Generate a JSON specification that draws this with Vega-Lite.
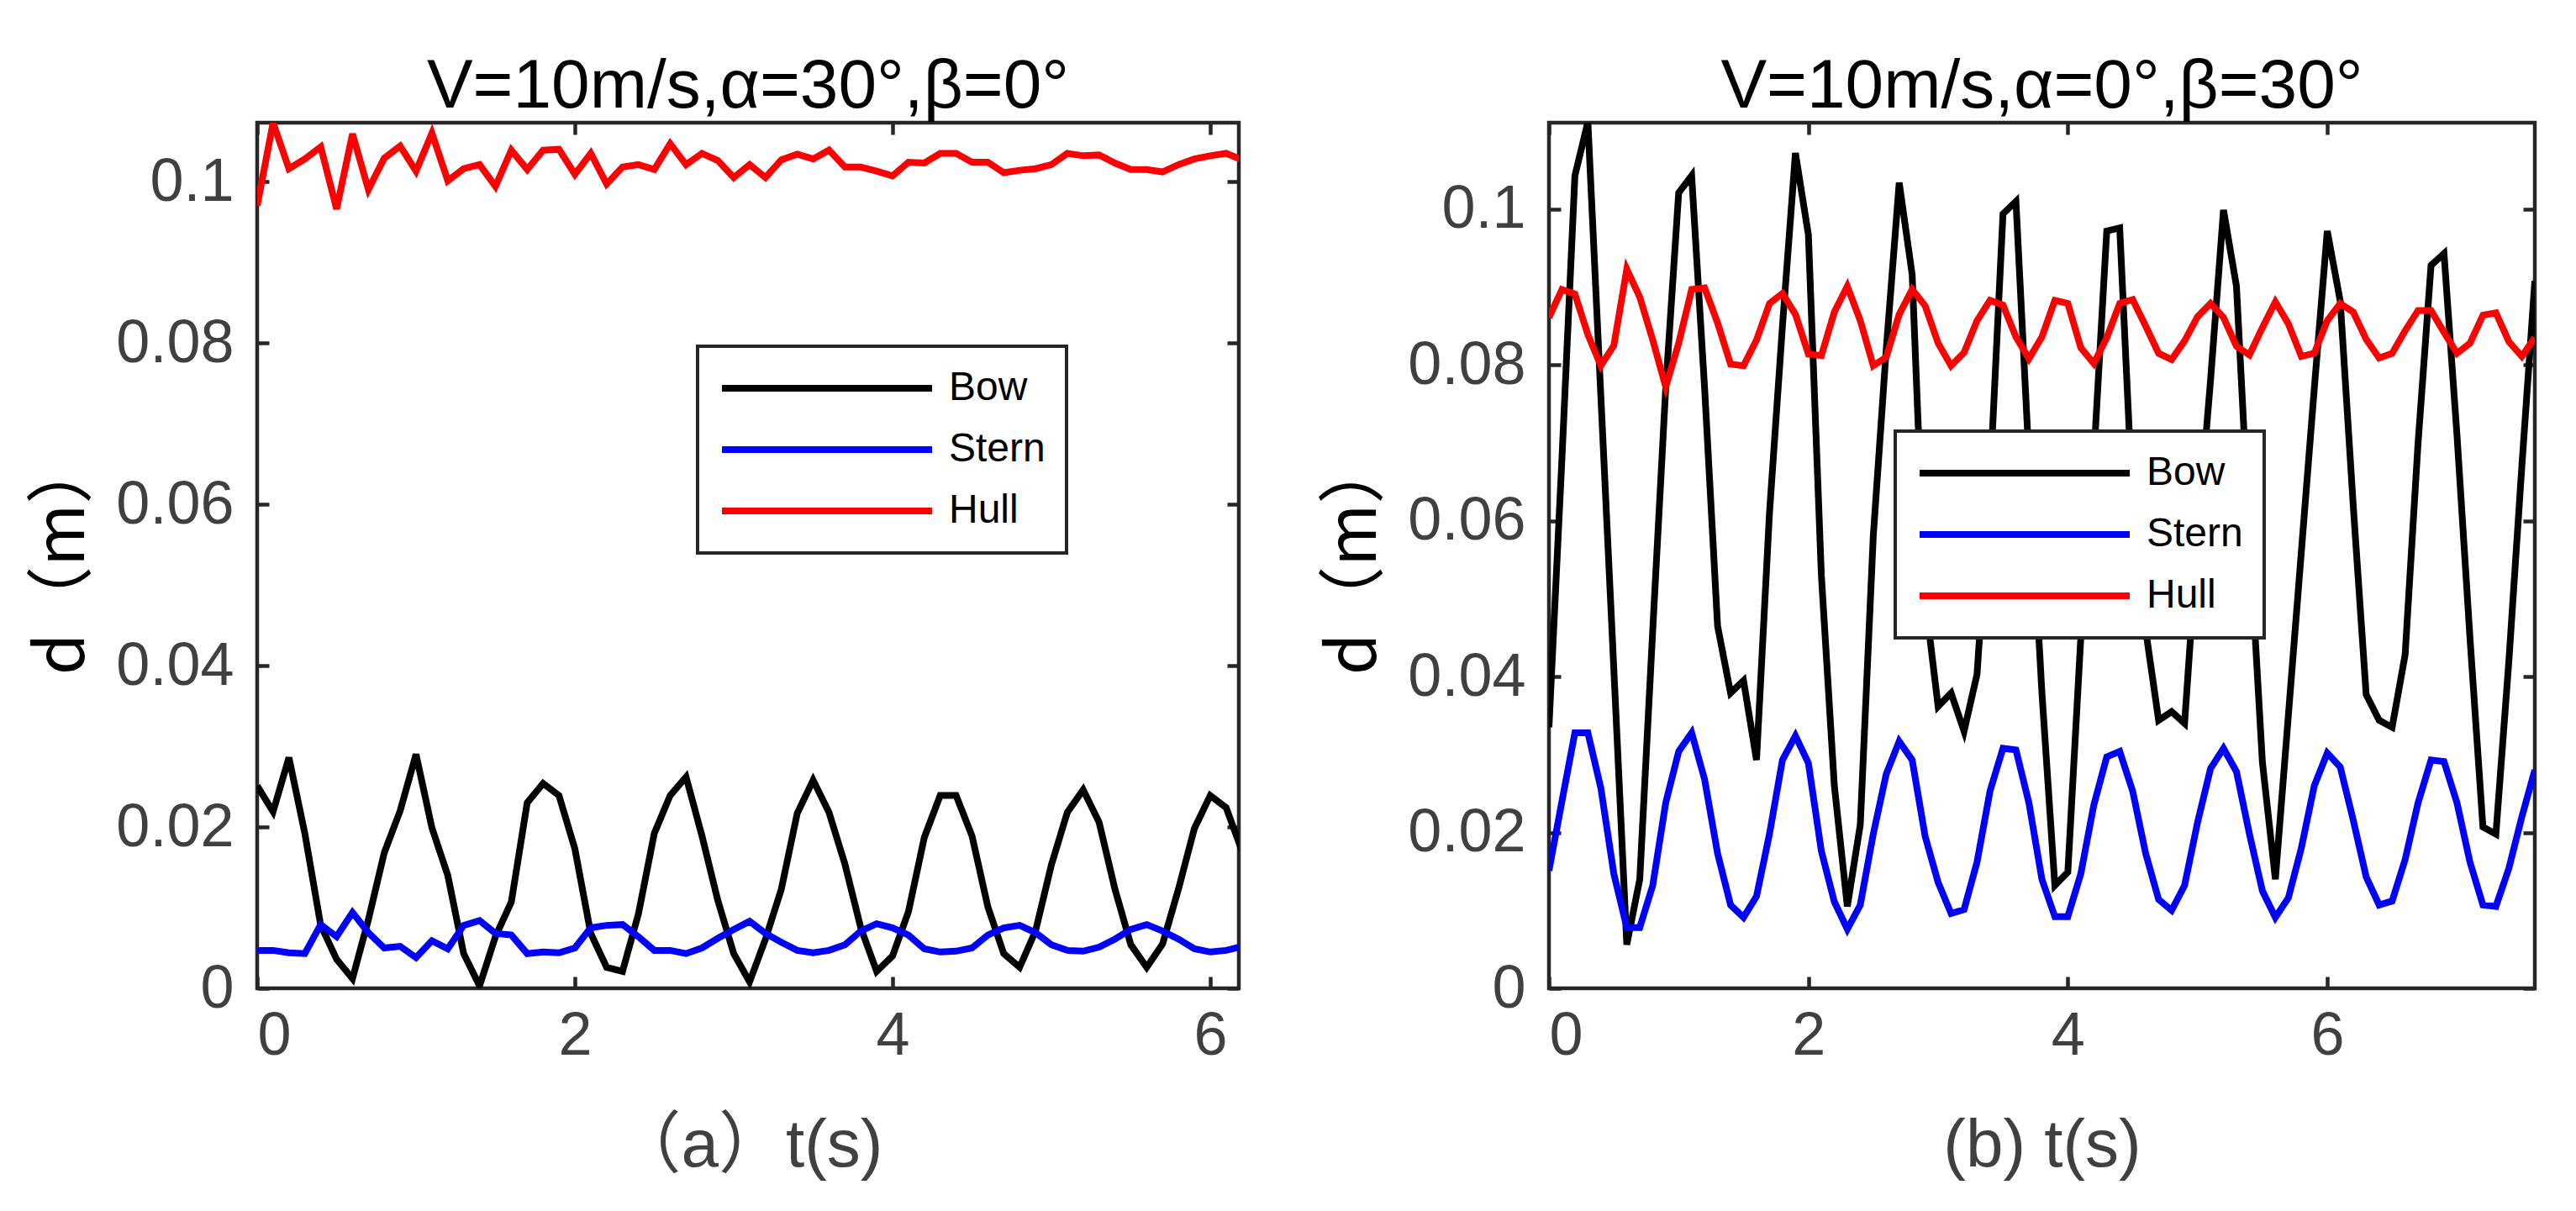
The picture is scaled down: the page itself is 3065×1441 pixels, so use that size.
{
"$schema": "https://vega.github.io/schema/vega-lite/v6.json",
"background": "white",
"padding": {"left": 33, "top": 59, "right": 10, "bottom": 10},
"bounds": "flush",
"spacing": 369,
"config": {
  "view": {"stroke": "#262626", "strokeWidth": 4.5},
  "axis": {"tickSize": -14, "tickWidth": 4.5, "tickColor": "#262626", "domain": false, "grid": false, "labelFont": "Liberation Sans", "labelFontSize": 72, "labelColor": "#404040", "titleFontWeight": "normal"},
  "axisX": {"labelPadding": 35, "titlePadding": 56, "titleFont": "Liberation Sans, Noto Sans CJK SC", "titleFontSize": 80, "titleColor": "#404040"},
  "axisY": {"labelPadding": 42, "titlePadding": 21, "titleFont": "Noto Sans CJK SC", "titleFontSize": 80, "titleColor": "#000000"},
  "title": {"font": "Liberation Sans", "fontSize": 82, "fontWeight": "normal", "color": "#000000", "baseline": "alphabetic", "offset": -1, "anchor": "middle"},
  "legend": {"orient": "none", "symbolType": "stroke", "symbolSize": 62500, "symbolStrokeWidth": 8, "labelFont": "Liberation Sans", "labelFontSize": 48, "labelColor": "#000000", "labelOffset": 16, "clipHeight": 50, "rowPadding": 23, "padding": 25, "strokeColor": "#262626", "strokeWidth": 4, "fillColor": "#ffffff", "cornerRadius": 0, "labelLimit": 0}
},
"resolve": {"scale": {"color": "independent"}, "legend": {"color": "independent"}},
"datasets": {
"a": [
{"t":0,"series":"Bow","d":0.0251},{"t":0.1,"series":"Bow","d":0.0219},{"t":0.2,"series":"Bow","d":0.0286},{"t":0.3,"series":"Bow","d":0.0192},{"t":0.4,"series":"Bow","d":0.0078},{"t":0.5,"series":"Bow","d":0.0036},{"t":0.6,"series":"Bow","d":0.0012},{"t":0.7,"series":"Bow","d":0.0085},{"t":0.8,"series":"Bow","d":0.0168},{"t":0.9,"series":"Bow","d":0.022},{"t":1.0,"series":"Bow","d":0.029},{"t":1.1,"series":"Bow","d":0.0199},{"t":1.2,"series":"Bow","d":0.014},{"t":1.3,"series":"Bow","d":0.0043},{"t":1.4,"series":"Bow","d":0.0003},{"t":1.5,"series":"Bow","d":0.0064},{"t":1.6,"series":"Bow","d":0.0107},{"t":1.7,"series":"Bow","d":0.023},{"t":1.8,"series":"Bow","d":0.0254},{"t":1.9,"series":"Bow","d":0.0239},{"t":2.0,"series":"Bow","d":0.0173},{"t":2.1,"series":"Bow","d":0.0068},{"t":2.2,"series":"Bow","d":0.0026},{"t":2.3,"series":"Bow","d":0.0021},{"t":2.4,"series":"Bow","d":0.0092},{"t":2.5,"series":"Bow","d":0.0192},{"t":2.6,"series":"Bow","d":0.0239},{"t":2.7,"series":"Bow","d":0.0262},{"t":2.8,"series":"Bow","d":0.0189},{"t":2.9,"series":"Bow","d":0.0109},{"t":3.0,"series":"Bow","d":0.0043},{"t":3.1,"series":"Bow","d":0.0008},{"t":3.2,"series":"Bow","d":0.0061},{"t":3.3,"series":"Bow","d":0.0123},{"t":3.4,"series":"Bow","d":0.0217},{"t":3.5,"series":"Bow","d":0.0258},{"t":3.6,"series":"Bow","d":0.0218},{"t":3.7,"series":"Bow","d":0.0154},{"t":3.8,"series":"Bow","d":0.0075},{"t":3.9,"series":"Bow","d":0.0021},{"t":4.0,"series":"Bow","d":0.004},{"t":4.1,"series":"Bow","d":0.0095},{"t":4.2,"series":"Bow","d":0.0187},{"t":4.3,"series":"Bow","d":0.0239},{"t":4.4,"series":"Bow","d":0.0239},{"t":4.5,"series":"Bow","d":0.0189},{"t":4.6,"series":"Bow","d":0.0101},{"t":4.7,"series":"Bow","d":0.0043},{"t":4.8,"series":"Bow","d":0.0026},{"t":4.9,"series":"Bow","d":0.0071},{"t":5.0,"series":"Bow","d":0.0153},{"t":5.1,"series":"Bow","d":0.0218},{"t":5.2,"series":"Bow","d":0.0246},{"t":5.3,"series":"Bow","d":0.0206},{"t":5.4,"series":"Bow","d":0.0123},{"t":5.5,"series":"Bow","d":0.0054},{"t":5.6,"series":"Bow","d":0.0026},{"t":5.7,"series":"Bow","d":0.0055},{"t":5.8,"series":"Bow","d":0.0123},{"t":5.9,"series":"Bow","d":0.0198},{"t":6.0,"series":"Bow","d":0.0239},{"t":6.1,"series":"Bow","d":0.0224},{"t":6.2,"series":"Bow","d":0.017},
{"t":0,"series":"Stern","d":0.0047},{"t":0.1,"series":"Stern","d":0.0047},{"t":0.2,"series":"Stern","d":0.0044},{"t":0.3,"series":"Stern","d":0.0043},{"t":0.4,"series":"Stern","d":0.0079},{"t":0.5,"series":"Stern","d":0.0064},{"t":0.6,"series":"Stern","d":0.0094},{"t":0.7,"series":"Stern","d":0.0069},{"t":0.8,"series":"Stern","d":0.005},{"t":0.9,"series":"Stern","d":0.0052},{"t":1.0,"series":"Stern","d":0.0038},{"t":1.1,"series":"Stern","d":0.0059},{"t":1.2,"series":"Stern","d":0.0049},{"t":1.3,"series":"Stern","d":0.0078},{"t":1.4,"series":"Stern","d":0.0084},{"t":1.5,"series":"Stern","d":0.0068},{"t":1.6,"series":"Stern","d":0.0066},{"t":1.7,"series":"Stern","d":0.0043},{"t":1.8,"series":"Stern","d":0.0045},{"t":1.9,"series":"Stern","d":0.0044},{"t":2.0,"series":"Stern","d":0.005},{"t":2.1,"series":"Stern","d":0.0075},{"t":2.2,"series":"Stern","d":0.0078},{"t":2.3,"series":"Stern","d":0.0079},{"t":2.4,"series":"Stern","d":0.0064},{"t":2.5,"series":"Stern","d":0.0047},{"t":2.6,"series":"Stern","d":0.0047},{"t":2.7,"series":"Stern","d":0.0043},{"t":2.8,"series":"Stern","d":0.005},{"t":2.9,"series":"Stern","d":0.0062},{"t":3.0,"series":"Stern","d":0.0073},{"t":3.1,"series":"Stern","d":0.0083},{"t":3.2,"series":"Stern","d":0.0068},{"t":3.3,"series":"Stern","d":0.0057},{"t":3.4,"series":"Stern","d":0.0047},{"t":3.5,"series":"Stern","d":0.0044},{"t":3.6,"series":"Stern","d":0.0047},{"t":3.7,"series":"Stern","d":0.0054},{"t":3.8,"series":"Stern","d":0.0071},{"t":3.9,"series":"Stern","d":0.008},{"t":4.0,"series":"Stern","d":0.0075},{"t":4.1,"series":"Stern","d":0.0066},{"t":4.2,"series":"Stern","d":0.0049},{"t":4.3,"series":"Stern","d":0.0045},{"t":4.4,"series":"Stern","d":0.0046},{"t":4.5,"series":"Stern","d":0.005},{"t":4.6,"series":"Stern","d":0.0066},{"t":4.7,"series":"Stern","d":0.0075},{"t":4.8,"series":"Stern","d":0.0078},{"t":4.9,"series":"Stern","d":0.0069},{"t":5.0,"series":"Stern","d":0.0054},{"t":5.1,"series":"Stern","d":0.0047},{"t":5.2,"series":"Stern","d":0.0046},{"t":5.3,"series":"Stern","d":0.0051},{"t":5.4,"series":"Stern","d":0.0061},{"t":5.5,"series":"Stern","d":0.0073},{"t":5.6,"series":"Stern","d":0.0079},{"t":5.7,"series":"Stern","d":0.0071},{"t":5.8,"series":"Stern","d":0.0061},{"t":5.9,"series":"Stern","d":0.0049},{"t":6.0,"series":"Stern","d":0.0045},{"t":6.1,"series":"Stern","d":0.0047},{"t":6.2,"series":"Stern","d":0.0052},
{"t":0,"series":"Hull","d":0.097},{"t":0.1,"series":"Hull","d":0.1073},{"t":0.2,"series":"Hull","d":0.1016},{"t":0.3,"series":"Hull","d":0.1028},{"t":0.4,"series":"Hull","d":0.1043},{"t":0.5,"series":"Hull","d":0.0966},{"t":0.6,"series":"Hull","d":0.1059},{"t":0.7,"series":"Hull","d":0.099},{"t":0.8,"series":"Hull","d":0.1029},{"t":0.9,"series":"Hull","d":0.1044},{"t":1.0,"series":"Hull","d":0.1013},{"t":1.1,"series":"Hull","d":0.106},{"t":1.2,"series":"Hull","d":0.1001},{"t":1.3,"series":"Hull","d":0.1016},{"t":1.4,"series":"Hull","d":0.1021},{"t":1.5,"series":"Hull","d":0.0994},{"t":1.6,"series":"Hull","d":0.1039},{"t":1.7,"series":"Hull","d":0.1015},{"t":1.8,"series":"Hull","d":0.1039},{"t":1.9,"series":"Hull","d":0.104},{"t":2.0,"series":"Hull","d":0.1009},{"t":2.1,"series":"Hull","d":0.1035},{"t":2.2,"series":"Hull","d":0.0997},{"t":2.3,"series":"Hull","d":0.1018},{"t":2.4,"series":"Hull","d":0.1021},{"t":2.5,"series":"Hull","d":0.1015},{"t":2.6,"series":"Hull","d":0.1047},{"t":2.7,"series":"Hull","d":0.1021},{"t":2.8,"series":"Hull","d":0.1035},{"t":2.9,"series":"Hull","d":0.1026},{"t":3.0,"series":"Hull","d":0.1005},{"t":3.1,"series":"Hull","d":0.1021},{"t":3.2,"series":"Hull","d":0.1005},{"t":3.3,"series":"Hull","d":0.1027},{"t":3.4,"series":"Hull","d":0.1034},{"t":3.5,"series":"Hull","d":0.1028},{"t":3.6,"series":"Hull","d":0.1039},{"t":3.7,"series":"Hull","d":0.1018},{"t":3.8,"series":"Hull","d":0.1018},{"t":3.9,"series":"Hull","d":0.1013},{"t":4.0,"series":"Hull","d":0.1007},{"t":4.1,"series":"Hull","d":0.1024},{"t":4.2,"series":"Hull","d":0.1023},{"t":4.3,"series":"Hull","d":0.1035},{"t":4.4,"series":"Hull","d":0.1035},{"t":4.5,"series":"Hull","d":0.1024},{"t":4.6,"series":"Hull","d":0.1024},{"t":4.7,"series":"Hull","d":0.1011},{"t":4.8,"series":"Hull","d":0.1014},{"t":4.9,"series":"Hull","d":0.1016},{"t":5.0,"series":"Hull","d":0.1021},{"t":5.1,"series":"Hull","d":0.1035},{"t":5.2,"series":"Hull","d":0.1032},{"t":5.3,"series":"Hull","d":0.1033},{"t":5.4,"series":"Hull","d":0.1023},{"t":5.5,"series":"Hull","d":0.1015},{"t":5.6,"series":"Hull","d":0.1015},{"t":5.7,"series":"Hull","d":0.1012},{"t":5.8,"series":"Hull","d":0.1021},{"t":5.9,"series":"Hull","d":0.1028},{"t":6.0,"series":"Hull","d":0.1032},{"t":6.1,"series":"Hull","d":0.1035},{"t":6.2,"series":"Hull","d":0.1027}
],
"b": [
{"t":0,"series":"Bow","d":0.0335},{"t":0.1,"series":"Bow","d":0.068},{"t":0.2,"series":"Bow","d":0.1043},{"t":0.3,"series":"Bow","d":0.1112},{"t":0.4,"series":"Bow","d":0.076},{"t":0.5,"series":"Bow","d":0.041},{"t":0.6,"series":"Bow","d":0.0056},{"t":0.7,"series":"Bow","d":0.014},{"t":0.8,"series":"Bow","d":0.046},{"t":0.9,"series":"Bow","d":0.077},{"t":1.0,"series":"Bow","d":0.1021},{"t":1.1,"series":"Bow","d":0.1043},{"t":1.2,"series":"Bow","d":0.077},{"t":1.3,"series":"Bow","d":0.0465},{"t":1.4,"series":"Bow","d":0.0379},{"t":1.5,"series":"Bow","d":0.0395},{"t":1.6,"series":"Bow","d":0.0293},{"t":1.7,"series":"Bow","d":0.061},{"t":1.8,"series":"Bow","d":0.085},{"t":1.9,"series":"Bow","d":0.1072},{"t":2.0,"series":"Bow","d":0.0967},{"t":2.1,"series":"Bow","d":0.053},{"t":2.2,"series":"Bow","d":0.026},{"t":2.3,"series":"Bow","d":0.0105},{"t":2.4,"series":"Bow","d":0.021},{"t":2.5,"series":"Bow","d":0.058},{"t":2.6,"series":"Bow","d":0.082},{"t":2.7,"series":"Bow","d":0.1034},{"t":2.8,"series":"Bow","d":0.0916},{"t":2.9,"series":"Bow","d":0.05},{"t":3.0,"series":"Bow","d":0.0362},{"t":3.1,"series":"Bow","d":0.0379},{"t":3.2,"series":"Bow","d":0.033},{"t":3.3,"series":"Bow","d":0.0403},{"t":3.4,"series":"Bow","d":0.065},{"t":3.5,"series":"Bow","d":0.0994},{"t":3.6,"series":"Bow","d":0.101},{"t":3.7,"series":"Bow","d":0.068},{"t":3.8,"series":"Bow","d":0.038},{"t":3.9,"series":"Bow","d":0.0132},{"t":4.0,"series":"Bow","d":0.0149},{"t":4.1,"series":"Bow","d":0.045},{"t":4.2,"series":"Bow","d":0.068},{"t":4.3,"series":"Bow","d":0.0972},{"t":4.4,"series":"Bow","d":0.0976},{"t":4.5,"series":"Bow","d":0.062},{"t":4.6,"series":"Bow","d":0.046},{"t":4.7,"series":"Bow","d":0.0344},{"t":4.8,"series":"Bow","d":0.0355},{"t":4.9,"series":"Bow","d":0.034},{"t":5.0,"series":"Bow","d":0.058},{"t":5.1,"series":"Bow","d":0.078},{"t":5.2,"series":"Bow","d":0.0999},{"t":5.3,"series":"Bow","d":0.0901},{"t":5.4,"series":"Bow","d":0.058},{"t":5.5,"series":"Bow","d":0.029},{"t":5.6,"series":"Bow","d":0.014},{"t":5.7,"series":"Bow","d":0.035},{"t":5.8,"series":"Bow","d":0.056},{"t":5.9,"series":"Bow","d":0.077},{"t":6.0,"series":"Bow","d":0.0972},{"t":6.1,"series":"Bow","d":0.0882},{"t":6.2,"series":"Bow","d":0.062},{"t":6.3,"series":"Bow","d":0.0377},{"t":6.4,"series":"Bow","d":0.0344},{"t":6.5,"series":"Bow","d":0.0335},{"t":6.6,"series":"Bow","d":0.0428},{"t":6.7,"series":"Bow","d":0.07},{"t":6.8,"series":"Bow","d":0.0928},{"t":6.9,"series":"Bow","d":0.0943},{"t":7.0,"series":"Bow","d":0.071},{"t":7.1,"series":"Bow","d":0.045},{"t":7.2,"series":"Bow","d":0.0207},{"t":7.3,"series":"Bow","d":0.0198},{"t":7.4,"series":"Bow","d":0.042},{"t":7.5,"series":"Bow","d":0.067},{"t":7.6,"series":"Bow","d":0.0908},
{"t":0,"series":"Stern","d":0.0151},{"t":0.1,"series":"Stern","d":0.024},{"t":0.2,"series":"Stern","d":0.0328},{"t":0.3,"series":"Stern","d":0.0328},{"t":0.4,"series":"Stern","d":0.0257},{"t":0.5,"series":"Stern","d":0.0147},{"t":0.6,"series":"Stern","d":0.0078},{"t":0.7,"series":"Stern","d":0.0078},{"t":0.8,"series":"Stern","d":0.0132},{"t":0.9,"series":"Stern","d":0.0238},{"t":1.0,"series":"Stern","d":0.0304},{"t":1.1,"series":"Stern","d":0.0328},{"t":1.2,"series":"Stern","d":0.0268},{"t":1.3,"series":"Stern","d":0.0173},{"t":1.4,"series":"Stern","d":0.0107},{"t":1.5,"series":"Stern","d":0.0091},{"t":1.6,"series":"Stern","d":0.0118},{"t":1.7,"series":"Stern","d":0.0198},{"t":1.8,"series":"Stern","d":0.0293},{"t":1.9,"series":"Stern","d":0.0324},{"t":2.0,"series":"Stern","d":0.0289},{"t":2.1,"series":"Stern","d":0.0176},{"t":2.2,"series":"Stern","d":0.0111},{"t":2.3,"series":"Stern","d":0.0076},{"t":2.4,"series":"Stern","d":0.0107},{"t":2.5,"series":"Stern","d":0.0198},{"t":2.6,"series":"Stern","d":0.0275},{"t":2.7,"series":"Stern","d":0.0317},{"t":2.8,"series":"Stern","d":0.0293},{"t":2.9,"series":"Stern","d":0.0195},{"t":3.0,"series":"Stern","d":0.0136},{"t":3.1,"series":"Stern","d":0.0096},{"t":3.2,"series":"Stern","d":0.0101},{"t":3.3,"series":"Stern","d":0.0162},{"t":3.4,"series":"Stern","d":0.0253},{"t":3.5,"series":"Stern","d":0.0308},{"t":3.6,"series":"Stern","d":0.0306},{"t":3.7,"series":"Stern","d":0.0238},{"t":3.8,"series":"Stern","d":0.014},{"t":3.9,"series":"Stern","d":0.0092},{"t":4.0,"series":"Stern","d":0.0092},{"t":4.1,"series":"Stern","d":0.0147},{"t":4.2,"series":"Stern","d":0.0235},{"t":4.3,"series":"Stern","d":0.0297},{"t":4.4,"series":"Stern","d":0.0304},{"t":4.5,"series":"Stern","d":0.0253},{"t":4.6,"series":"Stern","d":0.0173},{"t":4.7,"series":"Stern","d":0.0114},{"t":4.8,"series":"Stern","d":0.01},{"t":4.9,"series":"Stern","d":0.0132},{"t":5.0,"series":"Stern","d":0.0213},{"t":5.1,"series":"Stern","d":0.0282},{"t":5.2,"series":"Stern","d":0.0308},{"t":5.3,"series":"Stern","d":0.0278},{"t":5.4,"series":"Stern","d":0.0198},{"t":5.5,"series":"Stern","d":0.0125},{"t":5.6,"series":"Stern","d":0.0091},{"t":5.7,"series":"Stern","d":0.0116},{"t":5.8,"series":"Stern","d":0.018},{"t":5.9,"series":"Stern","d":0.026},{"t":6.0,"series":"Stern","d":0.0302},{"t":6.1,"series":"Stern","d":0.0284},{"t":6.2,"series":"Stern","d":0.0216},{"t":6.3,"series":"Stern","d":0.0143},{"t":6.4,"series":"Stern","d":0.0107},{"t":6.5,"series":"Stern","d":0.0112},{"t":6.6,"series":"Stern","d":0.0165},{"t":6.7,"series":"Stern","d":0.0238},{"t":6.8,"series":"Stern","d":0.0293},{"t":6.9,"series":"Stern","d":0.0291},{"t":7.0,"series":"Stern","d":0.0238},{"t":7.1,"series":"Stern","d":0.0162},{"t":7.2,"series":"Stern","d":0.0107},{"t":7.3,"series":"Stern","d":0.0105},{"t":7.4,"series":"Stern","d":0.0154},{"t":7.5,"series":"Stern","d":0.022},{"t":7.6,"series":"Stern","d":0.028},
{"t":0,"series":"Hull","d":0.0861},{"t":0.1,"series":"Hull","d":0.0897},{"t":0.2,"series":"Hull","d":0.0891},{"t":0.3,"series":"Hull","d":0.0839},{"t":0.4,"series":"Hull","d":0.0799},{"t":0.5,"series":"Hull","d":0.0825},{"t":0.6,"series":"Hull","d":0.0923},{"t":0.7,"series":"Hull","d":0.0887},{"t":0.8,"series":"Hull","d":0.0832},{"t":0.9,"series":"Hull","d":0.0772},{"t":1.0,"series":"Hull","d":0.0828},{"t":1.1,"series":"Hull","d":0.0897},{"t":1.2,"series":"Hull","d":0.0899},{"t":1.3,"series":"Hull","d":0.0854},{"t":1.4,"series":"Hull","d":0.0801},{"t":1.5,"series":"Hull","d":0.0799},{"t":1.6,"series":"Hull","d":0.0832},{"t":1.7,"series":"Hull","d":0.0879},{"t":1.8,"series":"Hull","d":0.0892},{"t":1.9,"series":"Hull","d":0.0865},{"t":2.0,"series":"Hull","d":0.0814},{"t":2.1,"series":"Hull","d":0.0812},{"t":2.2,"series":"Hull","d":0.0868},{"t":2.3,"series":"Hull","d":0.0901},{"t":2.4,"series":"Hull","d":0.0857},{"t":2.5,"series":"Hull","d":0.0799},{"t":2.6,"series":"Hull","d":0.081},{"t":2.7,"series":"Hull","d":0.0865},{"t":2.8,"series":"Hull","d":0.0897},{"t":2.9,"series":"Hull","d":0.0876},{"t":3.0,"series":"Hull","d":0.0828},{"t":3.1,"series":"Hull","d":0.0799},{"t":3.2,"series":"Hull","d":0.0816},{"t":3.3,"series":"Hull","d":0.0857},{"t":3.4,"series":"Hull","d":0.0883},{"t":3.5,"series":"Hull","d":0.0877},{"t":3.6,"series":"Hull","d":0.0836},{"t":3.7,"series":"Hull","d":0.0808},{"t":3.8,"series":"Hull","d":0.0836},{"t":3.9,"series":"Hull","d":0.0883},{"t":4.0,"series":"Hull","d":0.0879},{"t":4.1,"series":"Hull","d":0.0822},{"t":4.2,"series":"Hull","d":0.0802},{"t":4.3,"series":"Hull","d":0.0835},{"t":4.4,"series":"Hull","d":0.0879},{"t":4.5,"series":"Hull","d":0.0884},{"t":4.6,"series":"Hull","d":0.085},{"t":4.7,"series":"Hull","d":0.0815},{"t":4.8,"series":"Hull","d":0.0807},{"t":4.9,"series":"Hull","d":0.0831},{"t":5.0,"series":"Hull","d":0.0862},{"t":5.1,"series":"Hull","d":0.0879},{"t":5.2,"series":"Hull","d":0.0861},{"t":5.3,"series":"Hull","d":0.0824},{"t":5.4,"series":"Hull","d":0.0813},{"t":5.5,"series":"Hull","d":0.0848},{"t":5.6,"series":"Hull","d":0.0881},{"t":5.7,"series":"Hull","d":0.0853},{"t":5.8,"series":"Hull","d":0.0811},{"t":5.9,"series":"Hull","d":0.0815},{"t":6.0,"series":"Hull","d":0.0857},{"t":6.1,"series":"Hull","d":0.0879},{"t":6.2,"series":"Hull","d":0.0868},{"t":6.3,"series":"Hull","d":0.0833},{"t":6.4,"series":"Hull","d":0.0809},{"t":6.5,"series":"Hull","d":0.0815},{"t":6.6,"series":"Hull","d":0.0844},{"t":6.7,"series":"Hull","d":0.087},{"t":6.8,"series":"Hull","d":0.087},{"t":6.9,"series":"Hull","d":0.0842},{"t":7.0,"series":"Hull","d":0.0815},{"t":7.1,"series":"Hull","d":0.0828},{"t":7.2,"series":"Hull","d":0.0864},{"t":7.3,"series":"Hull","d":0.0867},{"t":7.4,"series":"Hull","d":0.083},{"t":7.5,"series":"Hull","d":0.0811},{"t":7.6,"series":"Hull","d":0.0835}
]
},
"hconcat": [
{
  "width": 1168, "height": 1030,
  "title": {"text": "V=10m/s,α=30°,β=0°"},
  "data": {"name": "a"},
  "resolve": {"axis": {"x": "independent", "y": "independent"}},
  "layer": [
    {
      "mark": {"type": "line", "strokeWidth": 8, "clip": true},
      "encoding": {
        "x": {"field": "t", "type": "quantitative", "scale": {"domain": [0, 6.18], "nice": false, "zero": false}, "axis": {"orient": "bottom", "values": [0, 2, 4, 6], "format": "d", "title": "（a）t(s)"}},
        "y": {"field": "d", "type": "quantitative", "scale": {"domain": [0, 0.1073], "nice": false}, "axis": {"orient": "left", "values": [0, 0.02, 0.04, 0.06, 0.08, 0.1], "format": "~g", "title": "d（m）"}},
        "color": {"field": "series", "type": "nominal", "scale": {"domain": ["Bow", "Stern", "Hull"], "range": ["#000000", "#0000ff", "#ff0000"]}, "legend": {"title": null, "legendX": 524, "legendY": 266}}
      }
    },
    {
      "mark": {"type": "line", "opacity": 0},
      "encoding": {
        "x": {"field": "t", "type": "quantitative", "scale": {"domain": [0, 6.18], "nice": false, "zero": false}, "axis": {"orient": "top", "values": [0, 2, 4, 6], "labels": false, "title": null}},
        "y": {"field": "d", "type": "quantitative", "scale": {"domain": [0, 0.1073], "nice": false}, "axis": {"orient": "right", "values": [0, 0.02, 0.04, 0.06, 0.08, 0.1], "labels": false, "title": null}},
        "detail": {"field": "series", "type": "nominal"}
      }
    }
  ]
},
{
  "width": 1173, "height": 1030,
  "title": {"text": "V=10m/s,α=0°,β=30°"},
  "data": {"name": "b"},
  "resolve": {"axis": {"x": "independent", "y": "independent"}},
  "layer": [
    {
      "mark": {"type": "line", "strokeWidth": 8, "clip": true},
      "encoding": {
        "x": {"field": "t", "type": "quantitative", "scale": {"domain": [0, 7.6], "nice": false, "zero": false}, "axis": {"orient": "bottom", "values": [0, 2, 4, 6], "format": "d", "title": "(b) t(s)"}},
        "y": {"field": "d", "type": "quantitative", "scale": {"domain": [0, 0.1111], "nice": false}, "axis": {"orient": "left", "values": [0, 0.02, 0.04, 0.06, 0.08, 0.1], "format": "~g", "title": "d（m）"}},
        "color": {"field": "series", "type": "nominal", "scale": {"domain": ["Bow", "Stern", "Hull"], "range": ["#000000", "#0000ff", "#ff0000"]}, "legend": {"title": null, "legendX": 412, "legendY": 367}}
      }
    },
    {
      "mark": {"type": "line", "opacity": 0},
      "encoding": {
        "x": {"field": "t", "type": "quantitative", "scale": {"domain": [0, 7.6], "nice": false, "zero": false}, "axis": {"orient": "top", "values": [0, 2, 4, 6], "labels": false, "title": null}},
        "y": {"field": "d", "type": "quantitative", "scale": {"domain": [0, 0.1111], "nice": false}, "axis": {"orient": "right", "values": [0, 0.02, 0.04, 0.06, 0.08, 0.1], "labels": false, "title": null}},
        "detail": {"field": "series", "type": "nominal"}
      }
    }
  ]
}
]
}
